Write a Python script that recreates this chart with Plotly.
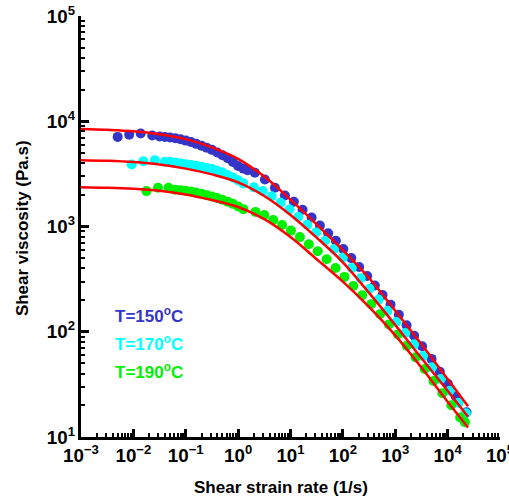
import plotly.graph_objects as go

# ---- data ----
rate_150 = [0.00501, 0.00832, 0.0138, 0.0229, 0.0316, 0.0398, 0.0501, 0.0631, 0.0794, 0.1,
            0.126, 0.158, 0.2, 0.251, 0.316, 0.398, 0.501, 0.631, 0.794, 1.0, 1.26, 1.51,
            2.09, 3.24, 5.04, 7.82, 11.6, 17.0, 25.3, 36.4, 52.4, 73.5,
            102, 145, 205, 291, 408, 573, 813, 1172, 1644, 2296,
            3260, 4930, 7100, 10090, 14320, 22960]
visc_150 = [7100, 7460, 7640, 7310, 7150, 7100, 7000, 6900, 6750, 6550,
            6350, 6100, 5850, 5600, 5350, 5050, 4750, 4450, 4100, 3750, 3550, 3420,
            3236, 2800, 2333, 1972, 1718, 1445, 1216, 1023, 861, 733,
            610, 501, 412, 339, 275, 223, 181, 145, 115, 91.6,
            72.8, 55.2, 41.7, 32.0, 24.3, 17.2]

rate_170 = [0.00933, 0.0155, 0.0257, 0.0398, 0.0501, 0.0631, 0.0794, 0.1, 0.126, 0.158,
            0.2, 0.251, 0.316, 0.398, 0.501, 0.631, 0.794, 1.0, 1.26,
            2.0, 2.95, 4.37, 6.46, 9.55, 14.1, 20.9, 30.9, 45.7, 67.6,
            100, 148, 219, 324, 479, 708, 1047, 1549, 2291, 3388,
            5012, 7413, 10965, 16218, 22387]
visc_170 = [3880, 4170, 4270, 4120, 4090, 4050, 3980, 3910, 3850, 3770,
            3700, 3600, 3510, 3390, 3250, 3090, 2920, 2750, 2570,
            2355, 2178, 1941, 1679, 1452, 1233, 1040, 879, 733, 610,
            507, 404, 322, 256, 202, 158, 124, 97.2, 75.9, 58.9,
            45.9, 35.6, 27.5, 21.1, 16.8]

rate_190 = [0.0178, 0.0295, 0.0468, 0.0631, 0.0794, 0.1, 0.126, 0.158, 0.2, 0.251,
            0.316, 0.398, 0.501, 0.631, 0.794, 1.0, 1.26,
            2.14, 3.16, 4.68, 6.92, 10.2, 15.1, 22.4, 33.1, 49.0, 72.4,
            107, 158, 234, 347, 513, 759, 1122, 1660, 2455, 3631,
            5370, 7943, 11749, 17378, 21380]
visc_190 = [2170, 2333, 2333, 2239, 2213, 2188, 2153, 2099, 2042, 1986,
            1928, 1862, 1795, 1722, 1641, 1549, 1462,
            1377, 1288, 1153, 1033, 914, 793, 679, 582, 488, 403,
            332, 272, 222, 183, 147, 117.5, 94.4, 73.5, 57.1, 44.3,
            34.0, 26.0, 20.0, 15.3, 13.8]

fit_rate = [0.001, 0.00316, 0.01, 0.0316, 0.1, 0.316, 1, 3.16, 10, 31.6,
            100, 316, 1000, 3162, 10000, 24500]
fit_150 = [8453, 8299, 8035, 7516, 6761, 5649, 4395, 2979, 1799, 1047,
           596, 324, 158.5, 75.9, 35.5, 19.6]
fit_170 = [4266, 4207, 4093, 3890, 3548, 3126, 2630, 1950, 1288, 785,
           457, 234, 116, 56.2, 27.5, 15.6]
fit_190 = [2366, 2339, 2286, 2188, 2018, 1786, 1531, 1175, 794, 489,
           299, 172, 92.3, 45.7, 21.6, 12.3]

labels = ["T=150<sup>o</sup>C", "T=170<sup>o</sup>C", "T=190<sup>o</sup>C"]
colors = ["#3535C8", "#00FFFF", "#00F000"]

FONT = "Liberation Sans, Arial, sans-serif"

fig = go.Figure()
for xs, ys, c in [(rate_150, visc_150, colors[0]),
                  (rate_170, visc_170, colors[1]),
                  (rate_190, visc_190, colors[2])]:
    fig.add_trace(go.Scatter(x=xs, y=ys, mode="markers",
                             marker=dict(size=10, color=c, line=dict(width=0)),
                             showlegend=False))
for ys in [fit_150, fit_170, fit_190]:
    fig.add_trace(go.Scatter(x=fit_rate, y=ys, mode="lines",
                             line=dict(color="#FF0000", width=2.5, shape="spline"),
                             showlegend=False))

axis_common = dict(
    type="log", dtick=1, exponentformat="power", showgrid=False, zeroline=False,
    showline=True, linecolor="black", linewidth=3, mirror=False, automargin=False,
    ticks="inside", ticklen=8, tickwidth=2.5, tickcolor="black",
    tickfont=dict(family=FONT, size=15, color="black", weight="bold"),
    minor=dict(ticks="inside", ticklen=4, tickwidth=2, tickcolor="black", dtick="D1"),
    labelalias={"1": "10<sup>0</sup>", "10": "10<sup>1</sup>"},
    ticklabeloverflow="allow",
)
fig.update_xaxes(range=[-3, 5], **axis_common)
fig.update_yaxes(range=[1, 5], **axis_common)

ann = []
ypos = [0.290, 0.223, 0.157]
for lab, c, yy in zip(labels, colors, ypos):
    ann.append(dict(text=lab, x=0.076, y=yy, xref="paper", yref="paper",
                    xanchor="left", yanchor="middle", showarrow=False,
                    font=dict(family=FONT, size=17, color=c, weight="bold")))
ann.append(dict(text="Shear strain rate (1/s)", x=0.4785, y=-0.121, xref="paper", yref="paper",
                xanchor="center", yanchor="middle", showarrow=False,
                font=dict(family=FONT, size=17, color="black", weight="bold")))
ann.append(dict(text="Shear viscosity (Pa.s)", x=-0.141, y=0.496, xref="paper", yref="paper",
                xanchor="center", yanchor="middle", showarrow=False, textangle=-90,
                font=dict(family=FONT, size=17, color="black", weight="bold")))

fig.update_layout(
    width=509, height=500,
    margin=dict(l=81, r=9, t=16, b=63, autoexpand=False),
    plot_bgcolor="white", paper_bgcolor="white",
    annotations=ann, showlegend=False,
)

# remove the browser's default 8px page margin so the figure sits at (0, 0)
fig.write_html("out.html", config={"displayModeBar": False},
               post_script="document.body.style.margin='0px';")
